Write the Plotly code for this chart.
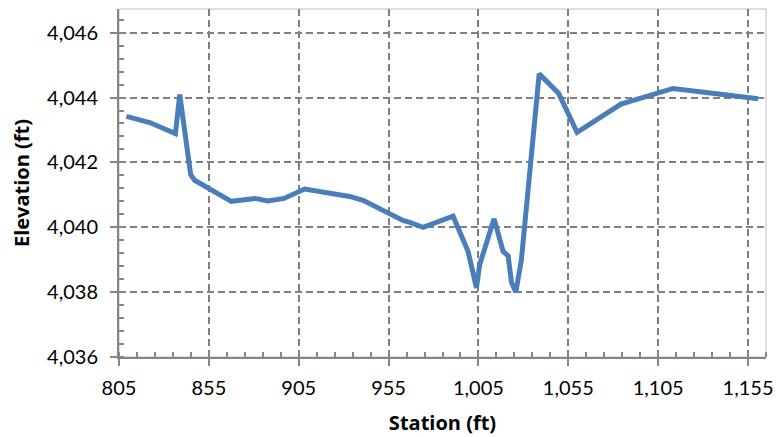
import plotly.graph_objects as go

station = [809.1, 822.1, 836.4, 838.8, 844.9, 847.1, 867.5, 880.8, 887.7, 896.8,
           908.3, 922.2, 933.3, 940.8, 963.0, 966.8, 974.2, 990.9, 995.1, 999.2,
           1003.9, 1005.7, 1013.7, 1018.7, 1021.5, 1023.4, 1025.8, 1028.9, 1038.8,
           1049.6, 1059.9, 1084.3, 1113.3, 1160.6]
elevation = [4043.42, 4043.23, 4042.89, 4044.09, 4041.62, 4041.45, 4040.80, 4040.89, 4040.81, 4040.89,
             4041.18, 4041.06, 4040.95, 4040.83, 4040.21, 4040.15, 4040.00, 4040.34, 4039.76, 4039.26,
             4038.13, 4038.85, 4040.26, 4039.26, 4039.12, 4038.30, 4038.00, 4039.00, 4044.73,
             4044.13, 4042.93, 4043.80, 4044.28, 4043.96]

x_title = "Station (ft)"
y_title = "Elevation (ft)"

fig = go.Figure()
fig.add_trace(go.Scatter(x=station, y=elevation, mode="lines",
                         line=dict(color="#4A7EBB", width=5), showlegend=False))

axis_common = dict(
    showline=True, linecolor="#868686", linewidth=2,
    showgrid=True, gridcolor="#808080", gridwidth=1.6, griddash="7px,4px",
    zeroline=False, ticks="outside", ticklen=7, tickwidth=2, tickcolor="#868686",
    tickfont=dict(family="Lato", size=20, color="#000000"),
    tickformat=",", automargin=False,
)

fig.update_xaxes(range=[805, 1165], tick0=805, dtick=50, ticklabelstandoff=5,
                 minor=dict(tick0=805, dtick=10, ticks="inside", ticklen=5,
                            tickcolor="#868686", tickwidth=1.5, showgrid=False),
                 title=dict(text=x_title, font=dict(family="Open Sans", size=20, color="#000000", weight="bold"),
                            standoff=18),
                 **axis_common)
fig.update_yaxes(range=[4036, 4046.73], tick0=4036, dtick=2, ticklabelstandoff=8,
                 minor=dict(tick0=4036, dtick=0.4, ticks="inside", ticklen=5,
                            tickcolor="#868686", tickwidth=1.5, showgrid=False),
                 title=dict(text=y_title, font=dict(family="Open Sans", size=20, color="#000000", weight="bold"),
                            standoff=12),
                 **axis_common)

fig.add_shape(type="rect", xref="paper", yref="paper", x0=0, y0=0, x1=1, y1=1,
              line=dict(color="#BFBFBF", width=1), layer="below")

fig.update_layout(
    width=776, height=437,
    margin=dict(l=119, r=10, t=9, b=80),
    plot_bgcolor="#FFFFFF", paper_bgcolor="#FFFFFF",
)

fig.write_html("out.html", config={"displayModeBar": False},
               post_script="document.body.style.margin='0px';document.body.style.overflow='hidden';")
